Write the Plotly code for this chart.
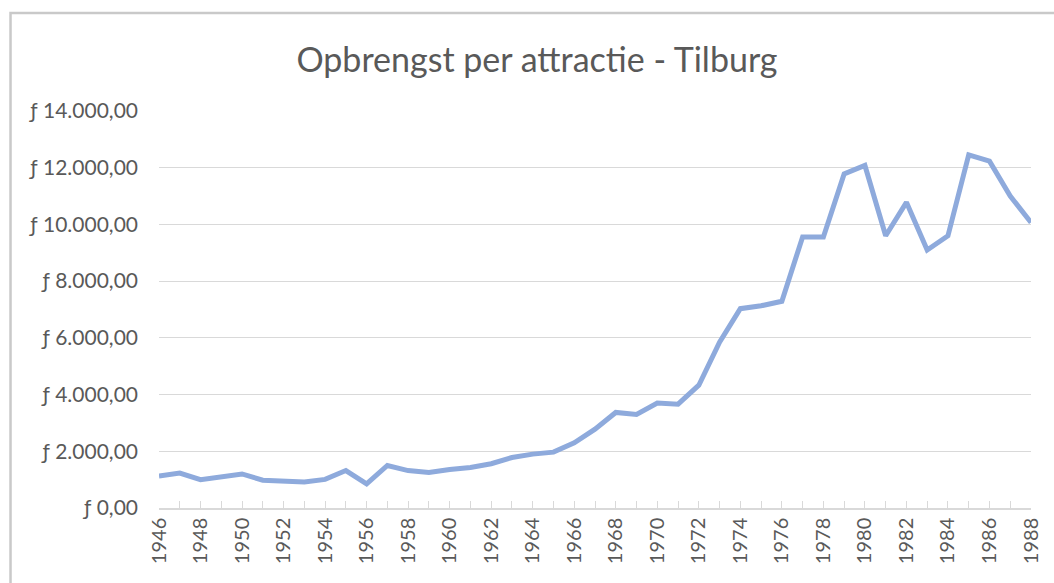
import plotly.graph_objects as go

years = list(range(1946, 1989))
values = [1130, 1230, 1000, 1100, 1200, 980, 960, 920, 1010, 1320,
          850, 1500, 1320, 1250, 1360, 1430, 1560, 1780, 1900, 1970,
          2300, 2780, 3370, 3300, 3700, 3660, 4330, 5850, 7030, 7130,
          7290, 9560, 9560, 11780, 12080, 9600, 10780, 9100, 9600, 12450,
          12230, 11000, 10070]

y_tickvals = [0, 2000, 4000, 6000, 8000, 10000, 12000, 14000]
y_ticktext = ["ƒ 0,00", "ƒ 2.000,00", "ƒ 4.000,00", "ƒ 6.000,00", "ƒ 8.000,00",
              "ƒ 10.000,00", "ƒ 12.000,00", "ƒ 14.000,00"]
x_tickvals = years[::2]
x_ticktext = [str(y) for y in x_tickvals]

title_text = "Opbrengst per attractie - Tilburg"

FONT = "Lato"
GRAY = "#595959"

fig = go.Figure()
fig.add_trace(go.Scatter(
    x=years, y=values, mode="lines",
    line=dict(color="#8eaadc", width=5),
    hoverinfo="x+y",
))

W, H = 1054, 583
L, T = 159, 111
pw, ph = 878, 397
R = W - L - pw
B = H - T - ph

fig.update_layout(
    width=W, height=H,
    margin=dict(l=L, r=R, t=T, b=B, pad=0),
    paper_bgcolor="white", plot_bgcolor="white",
    showlegend=False,
    title=dict(text=title_text, x=537 / W, xanchor="center",
               y=1 - 60 / H, yanchor="middle",
               font=dict(family=FONT, size=34, color=GRAY)),
    font=dict(family=FONT, color=GRAY),
    xaxis=dict(
        range=[1946, 1988], tickmode="array",
        tickvals=x_tickvals, ticktext=x_ticktext,
        tickangle=-90, tickfont=dict(family=FONT, size=20, color=GRAY),
        ticklabeloverflow="allow",
        showgrid=False, zeroline=False,
        showline=True, linecolor="#d9d9d9", linewidth=1.5,
        ticks="inside", ticklen=7, tickcolor="#d9d9d9", tickwidth=1.3,
        minor=dict(dtick=1, tick0=1946, ticks="inside", ticklen=7,
                   tickcolor="#d9d9d9", tickwidth=1.3, showgrid=False),
        fixedrange=True,
    ),
    yaxis=dict(
        range=[0, 14000], tickmode="array",
        tickvals=y_tickvals, ticktext=y_ticktext,
        tickfont=dict(family=FONT, size=21, color=GRAY),
        showgrid=True, gridcolor="#d9d9d9", gridwidth=1.3,
        zeroline=False, showline=False, ticks="",
        ticklabelstandoff=20,
        fixedrange=True,
    ),
    shapes=[dict(
        type="rect", xref="paper", yref="paper",
        x0=(9.5 - L) / pw, x1=(W + 20 - L) / pw,
        y0=-(H + 20 - (T + ph)) / ph, y1=1 + (T - 13) / ph,
        line=dict(color="#c9c9c9", width=2.5), fillcolor="rgba(0,0,0,0)",
        layer="below",
    )],
)

fig.write_html(
    "out.html",
    config={"displayModeBar": False},
    post_script=("document.body.style.margin='0';"
                 "document.body.style.overflow='hidden';"
                 "document.documentElement.style.overflow='hidden';"),
)
